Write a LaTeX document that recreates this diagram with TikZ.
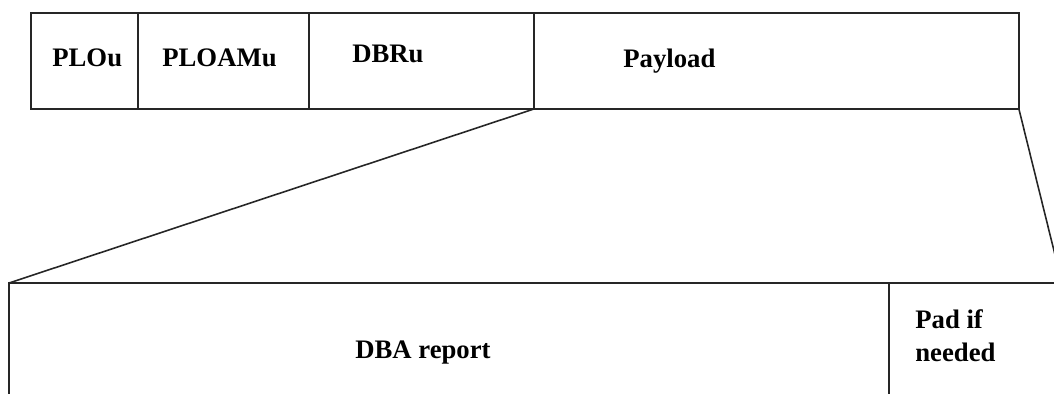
\documentclass[tikz,border=0pt]{standalone}
\usepackage{fontspec}
\setmainfont{Liberation Serif}
\begin{document}
\begin{tikzpicture}[x=0.02cm, y=-0.02cm,
  cell/.style={draw=black!85, line width=0.9pt, inner sep=0pt, outer sep=0pt,
    anchor=north west, minimum height=1.92cm},
  lowcell/.style={cell, minimum height=3.2cm},
  lbl/.style={inner sep=0pt, anchor=base west,
    font=\fontsize{15.2}{18.7}\selectfont\bfseries},
  link/.style={draw=black!85, line width=0.9pt}]
  \useasboundingbox (0,0) rectangle (1054,394);
  \clip (0,0) rectangle (1054,394);

  % upstream burst: header fields and payload
  \node[cell, minimum width=2.14cm] (plou)   at (31,13)  {};
  \node[cell, minimum width=3.42cm] (ploamu) at (138,13) {};
  \node[cell, minimum width=4.5cm]  (dbru)   at (309,13) {};
  \node[cell, minimum width=9.7cm]  (pay)    at (534,13) {};

  \node[lbl] (tplou)   at (52,67)  {PLOu};
  \node[lbl] (tploamu) at (162,67) {PLOAMu};
  \node[lbl] (tdbru)   at (352,63) {DBRu};
  \node[lbl] (tpay)    at (623,68) {Payload};

  % expanded payload
  \node[lowcell, minimum width=17.6cm] (dba) at (9,283)   {};
  \node[lowcell, minimum width=3.46cm] (pad) at (889,283) {};

  \node[lbl] (tdba) at (355,359) {DBA report};
  \node[lbl, anchor=north west, align=left] (tpad) at (915,309) {Pad if\\needed};

  % expansion lines
  \draw[link] (pay.south west) -- (dba.north west);
  \draw[link] (pay.south east) -- (pad.north east);
\end{tikzpicture}
\end{document}
